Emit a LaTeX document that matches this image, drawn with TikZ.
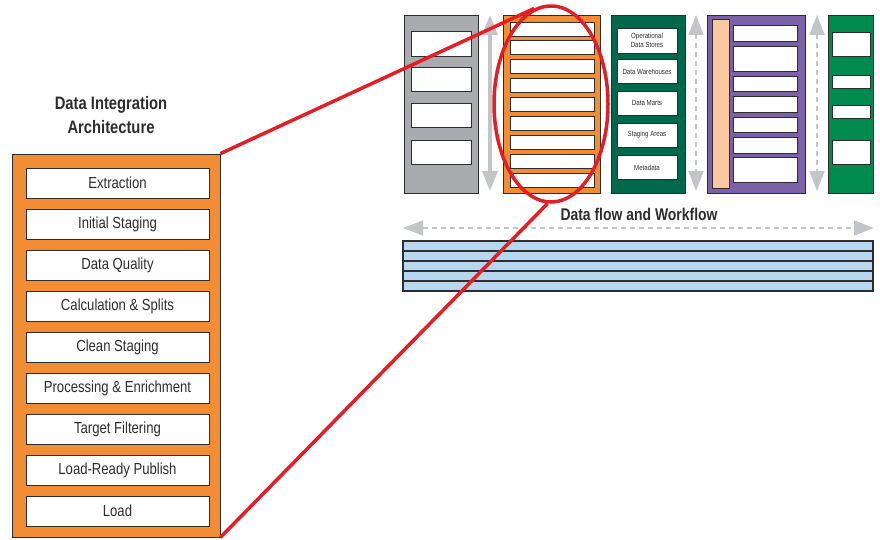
\documentclass[tikz,border=0pt]{standalone}
\usepackage{fontspec}
\setmainfont{Liberation Sans}[FakeStretch=0.82]
\usetikzlibrary{shapes.geometric,arrows.meta}
\definecolor{archorange}{RGB}{242,141,52}
\definecolor{srcgray}{RGB}{170,171,174}
\definecolor{storegreen}{RGB}{0,104,75}
\definecolor{bipurple}{RGB}{124,96,168}
\definecolor{peach}{RGB}{250,201,160}
\definecolor{usegreen}{RGB}{0,138,78}
\definecolor{flowblue}{RGB}{183,215,238}
\definecolor{focusred}{RGB}{228,30,38}
\definecolor{inkgray}{RGB}{45,45,48}
\definecolor{arrowgray}{RGB}{196,197,200}
\begin{document}
\begin{tikzpicture}[x=1pt, y=-1pt,
    column/.style={draw=inkgray, line width=0.8pt},
    slot/.style={draw=inkgray, fill=white, line width=0.8pt},
    stagebox/.style={slot, minimum width=183pt, minimum height=30pt, inner sep=0pt,
      font=\fontsize{16}{17}\selectfont, text=inkgray},
    storebox/.style={slot, minimum width=60pt, minimum height=24pt, inner sep=0pt,
      align=center, font=\fontsize{7.5}{8.5}\selectfont, text=inkgray},
    heading/.style={align=center, text=inkgray, font=\bfseries\fontsize{18}{24}\selectfont},
    moveline/.style={{Triangle[width=15pt,length=20pt]}-{Triangle[width=15pt,length=20pt]},
      draw=arrowgray, line width=3.5pt},
    dashline/.style={moveline, line width=2pt, dash pattern=on 5pt off 4pt},
    zoomline/.style={draw=focusred, line width=3.5pt}]
  \useasboundingbox (0,0) rectangle (880,540);
  % detail of the staging column
  \node[heading] (title) at (111,115) {Data Integration\\Architecture};
  \node[column, fill=archorange, minimum width=208pt, minimum height=383pt] (stages) at (116,345.5) {};
  \node[stagebox] (s1) at (117.5,183) {Extraction};
  \node[stagebox] (s2) at (117.5,224) {Initial Staging};
  \node[stagebox] (s3) at (117.5,265) {Data Quality};
  \node[stagebox] (s4) at (117.5,306) {Calculation \& Splits};
  \node[stagebox] (s5) at (117.5,347) {Clean Staging};
  \node[stagebox] (s6) at (117.5,388) {Processing \& Enrichment};
  \node[stagebox] (s7) at (117.5,429) {Target Filtering};
  \node[stagebox] (s8) at (117.5,470) {Load-Ready Publish};
  \node[stagebox] (s9) at (117.5,511) {Load};

  % sources
  \draw[column, fill=srcgray] (404,15) rectangle (478,193);
  \draw[slot] (411,31) rectangle (471,56);
  \draw[slot] (411,67) rectangle (471,91);
  \draw[slot] (411,103) rectangle (471,127);
  \draw[slot] (411,140) rectangle (471,164);
  \coordinate (a1top) at (490,15);
  \coordinate (a1bot) at (490,191);
  \draw[moveline] (a1top) -- (a1bot);

  % staging
  \draw[column, fill=archorange] (503,15) rectangle (600,193);
  \draw[slot] (510,22) rectangle (594,36);
  \draw[slot] (510,40) rectangle (594,54);
  \draw[slot] (510,59) rectangle (594,73);
  \draw[slot] (510,78) rectangle (594,92);
  \draw[slot] (510,97) rectangle (594,111);
  \draw[slot] (510,116) rectangle (594,130);
  \draw[slot] (510,135) rectangle (594,149);
  \draw[slot] (510,154) rectangle (594,168);
  \draw[slot] (510,173) rectangle (594,187);

  % stores
  \draw[column, fill=storegreen] (611,15) rectangle (685,193);
  \node[storebox, minimum height=25pt] (ods) at (647,40.5) {Operational\\Data Stores};
  \node[storebox] (dw) at (647,71.5) {Data Warehouses};
  \node[storebox] (dm) at (647,103) {Data Marts};
  \node[storebox] (sa) at (647,135) {Staging Areas};
  \node[storebox] (meta) at (647,167.5) {Metadata};
  \coordinate (a2top) at (696,15);
  \coordinate (a2bot) at (696,191);
  \draw[dashline] (a2top) -- (a2bot);

  % analytics
  \draw[column, fill=bipurple] (707,15) rectangle (805,193);
  \draw[column, fill=peach] (712,19) rectangle (729,188);
  \draw[slot] (733,25) rectangle (797,41);
  \draw[slot] (733,46) rectangle (797,71);
  \draw[slot] (733,76) rectangle (797,91);
  \draw[slot] (733,96) rectangle (797,112);
  \draw[slot] (733,117) rectangle (797,132);
  \draw[slot] (733,137) rectangle (797,153);
  \draw[slot] (733,157) rectangle (797,182);
  \coordinate (a3top) at (817,15);
  \coordinate (a3bot) at (817,191);
  \draw[dashline] (a3top) -- (a3bot);

  % users
  \draw[column, fill=usegreen] (828,15) rectangle (873,193);
  \draw[slot] (832,32) rectangle (870,56);
  \draw[slot] (832,75) rectangle (870,88);
  \draw[slot] (832,105) rectangle (870,118);
  \draw[slot] (832,140) rectangle (870,164);

  % flow band
  \node[heading, font=\bfseries\fontsize{17}{18}\selectfont] (flow) at (639,214) {Data flow and Workflow};
  \coordinate (fleft) at (403,228);
  \coordinate (fright) at (874,228);
  \draw[dashline] (fleft) -- (fright);
  \draw[column, fill=flowblue, line width=1.2pt] (403,241) rectangle (873,291);
  \draw[column, line width=1.2pt] (403,251) -- (873,251);
  \draw[column, line width=1.2pt] (403,261) -- (873,261);
  \draw[column, line width=1.2pt] (403,271) -- (873,271);
  \draw[column, line width=1.2pt] (403,281) -- (873,281);

  % zoom marker
  \node[ellipse, draw=focusred, line width=3.5pt, minimum width=114pt, minimum height=196pt,
    inner sep=0pt] (focus) at (551,104) {};
  \draw[zoomline] (stages.north east) -- (focus.100);
  \draw[zoomline] (stages.south east) -- (focus.268);
\end{tikzpicture}
\end{document}
